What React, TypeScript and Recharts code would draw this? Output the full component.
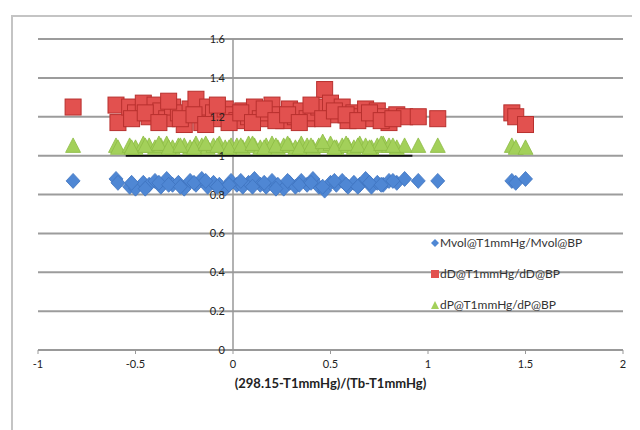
import React from 'react';
import { ScatterChart, Scatter, XAxis, YAxis, CartesianGrid, ReferenceLine, Label } from 'recharts';

// x values (same abscissa for all three series)
const xs = [
  -0.82, -0.6, -0.59, -0.53, -0.5, -0.46, -0.43, -0.4, -0.37, -0.34, -0.31, -0.28, -0.25, -0.22,
  -0.19, -0.16, -0.13, -0.1, -0.07, -0.04, -0.01, 0.02, 0.05, 0.08, 0.11, 0.14, 0.17, 0.2, 0.23,
  0.26, 0.29, 0.32, 0.35, 0.38, 0.41, 0.44, 0.47, 0.5, 0.53, 0.56, 0.59, 0.62, 0.65, 0.68, 0.71,
  0.74, 0.77, 0.8, 0.84, 0.88, 0.95, 1.05, 1.43, 1.45, 1.5,
  -0.52, -0.45, -0.38, -0.33, -0.27, -0.2, -0.14, -0.08, -0.02, 0.04, 0.1, 0.16, 0.22, 0.28,
  0.34, 0.4, 0.46, 0.52, 0.58, 0.64, 0.7, 0.76, 0.82,
];

const dDRatio = [
  1.25, 1.26, 1.17, 1.25, 1.22, 1.27, 1.2, 1.26, 1.23, 1.19, 1.25, 1.22, 1.16, 1.24,
  1.29, 1.17, 1.25, 1.22, 1.19, 1.24, 1.21, 1.18, 1.23, 1.2, 1.25, 1.19, 1.22, 1.26, 1.21,
  1.18, 1.24, 1.2, 1.23, 1.19, 1.22, 1.25, 1.34, 1.27, 1.21, 1.25, 1.18, 1.22, 1.2, 1.24, 1.19,
  1.23, 1.2, 1.17, 1.21, 1.2, 1.2, 1.19, 1.22, 1.2, 1.16,
  1.19, 1.22, 1.17, 1.28, 1.19, 1.21, 1.16, 1.26, 1.17, 1.22, 1.17, 1.24, 1.18, 1.21,
  1.17, 1.26, 1.19, 1.23, 1.21, 1.18, 1.22, 1.18, 1.19,
];

const dPRatio = [
  1.05, 1.05, 1.04, 1.05, 1.04, 1.06, 1.05, 1.04, 1.05, 1.06, 1.04, 1.05, 1.05, 1.04,
  1.06, 1.05, 1.04, 1.05, 1.06, 1.04, 1.05, 1.05, 1.04, 1.06, 1.05, 1.04, 1.05, 1.06, 1.04,
  1.05, 1.05, 1.04, 1.06, 1.05, 1.04, 1.05, 1.05, 1.06, 1.04, 1.05, 1.05, 1.04, 1.06, 1.05, 1.04,
  1.05, 1.06, 1.05, 1.04, 1.05, 1.05, 1.05, 1.05, 1.04, 1.04,
  1.04, 1.05, 1.06, 1.04, 1.05, 1.04, 1.06, 1.05, 1.04, 1.05, 1.06, 1.04, 1.05, 1.06,
  1.04, 1.05, 1.07, 1.04, 1.06, 1.05, 1.04, 1.06, 1.05,
];

const mvolRatio = [
  0.87, 0.88, 0.86, 0.84, 0.83, 0.86, 0.85, 0.87, 0.84, 0.88, 0.85, 0.86, 0.83, 0.87,
  0.85, 0.88, 0.84, 0.86, 0.85, 0.83, 0.87, 0.85, 0.84, 0.86, 0.88, 0.85, 0.84, 0.87, 0.85,
  0.83, 0.86, 0.84, 0.87, 0.85, 0.88, 0.84, 0.82, 0.86, 0.85, 0.87, 0.84, 0.86, 0.85, 0.88, 0.84,
  0.86, 0.85, 0.87, 0.86, 0.88, 0.87, 0.87, 0.87, 0.86, 0.88,
  0.86, 0.83, 0.86, 0.85, 0.84, 0.86, 0.87, 0.84, 0.85, 0.87, 0.84, 0.86, 0.83, 0.87,
  0.85, 0.86, 0.84, 0.87, 0.85, 0.84, 0.86, 0.85, 0.87,
];

// dark line along the bottom of the triangles
const baseX = [-0.55, 0.92];
const baseY = [1.0, 1.0];

const xTicks = [-1, -0.5, 0, 0.5, 1, 1.5, 2];
const yTicks = [0, 0.2, 0.4, 0.6, 0.8, 1, 1.2, 1.4, 1.6];

const mvolData = xs.map((x, i) => ({ x, y: mvolRatio[i] }));
const dDData = xs.map((x, i) => ({ x, y: dDRatio[i] }));
const dPData = xs.map((x, i) => ({ x, y: dPRatio[i] }));
const baseData = baseX.map((x, i) => ({ x, y: baseY[i] }));

const FONT = 'Lato, "Open Sans", sans-serif';
const CHART_W = 627;
const CHART_H = 413;
const MARGIN = { top: 22, right: 17, left: 24, bottom: 0 };
const PLOT_W = CHART_W - MARGIN.left - MARGIN.right - 1;

const RED = '#e2514f';
const GREEN = '#a3d05a';
const BLUE = '#4f87d4';

const Square = ({ cx, cy }: any) => (
  <rect x={cx - 8} y={cy - 8} width={16} height={16} fill={RED} stroke="#b8302e" strokeWidth={1} />
);
const Triangle = ({ cx, cy }: any) => (
  <path d={`M${cx},${cy - 8} L${cx + 7.5},${cy + 6.5} L${cx - 7.5},${cy + 6.5} Z`} fill={GREEN} stroke="#8dbb45" strokeWidth={0.8} />
);
const Diamond = ({ cx, cy }: any) => (
  <path d={`M${cx},${cy - 7.5} L${cx + 7},${cy} L${cx},${cy + 7.5} L${cx - 7},${cy} Z`} fill={BLUE} stroke="#3f74bf" strokeWidth={0.8} />
);
const NoShape = () => null;

// y tick labels sit beside the vertical axis at x = 0
const renderYTick = (props: any) => {
  const { x, y, payload } = props;
  return (
    <text x={x + PLOT_W / 3 - 2} y={y} dy={4} textAnchor="end" fontSize={11} fill="#222" fontFamily={FONT}>
      {payload.value}
    </text>
  );
};

const legendItems = [
  { name: 'Mvol@T1mmHg/Mvol@BP', icon: 'diamond' },
  { name: 'dD@T1mmHg/dD@BP', icon: 'square' },
  { name: 'dP@T1mmHg/dP@BP', icon: 'triangle' },
];

const ChartLegend = () => (
  <div style={{ position: 'absolute', left: 418, top: 210, fontFamily: FONT, fontSize: 12, color: '#333' }}>
    {legendItems.map(item => (
      <div key={item.name} style={{ display: 'flex', alignItems: 'center', height: 31 }}>
        <svg width={8} height={8} style={{ marginRight: 1 }}>
          {item.icon === 'diamond' && <path d="M4,0 L8,4 L4,8 L0,4 Z" fill={BLUE} />}
          {item.icon === 'square' && <rect x={0} y={0} width={8} height={8} fill={RED} />}
          {item.icon === 'triangle' && <path d="M4,0 L8,8 L0,8 Z" fill={GREEN} />}
        </svg>
        <span>{item.name}</span>
      </div>
    ))}
  </div>
);

export default function App() {
  return (
    <div
      style={{
        position: 'relative',
        marginLeft: 3,
        marginTop: 7,
        width: CHART_W + 20,
        height: CHART_H + 20,
        border: '2px solid #c4c4c4',
        background: '#fff',
      }}
    >
      <ScatterChart width={CHART_W} height={CHART_H} margin={MARGIN}>
        <CartesianGrid horizontal vertical={false} stroke="#9c9c9c" strokeWidth={2} />
        <XAxis
          type="number"
          dataKey="x"
          domain={[-1, 2]}
          ticks={xTicks}
          height={80}
          tickSize={4}
          tickMargin={6}
          stroke="#999"
          tick={{ fontSize: 11, fill: '#222', fontFamily: FONT }}
          axisLine={{ stroke: '#999', strokeWidth: 1.5 }}
        >
          <Label
            value="(298.15-T1mmHg)/(Tb-T1mmHg)"
            position="insideTop"
            offset={29}
            style={{ fontSize: 13, fontWeight: 'bold', fill: '#222', fontFamily: FONT }}
          />
        </XAxis>
        <YAxis
          type="number"
          dataKey="y"
          domain={[0, 1.6]}
          ticks={yTicks}
          width={1}
          axisLine={false}
          tickLine={false}
          tickMargin={0}
          tick={renderYTick}
        />
        <ReferenceLine x={0} stroke="#999" strokeWidth={1.5} />
        <Scatter data={baseData} line={{ stroke: '#111', strokeWidth: 2 }} shape={<NoShape />} legendType="none" isAnimationActive={false} />
        <Scatter name="Mvol@T1mmHg/Mvol@BP" data={mvolData} shape={<Diamond />} isAnimationActive={false} />
        <Scatter name="dP@T1mmHg/dP@BP" data={dPData} shape={<Triangle />} isAnimationActive={false} />
        <Scatter name="dD@T1mmHg/dD@BP" data={dDData} shape={<Square />} isAnimationActive={false} />
      </ScatterChart>
      <ChartLegend />
    </div>
  );
}
